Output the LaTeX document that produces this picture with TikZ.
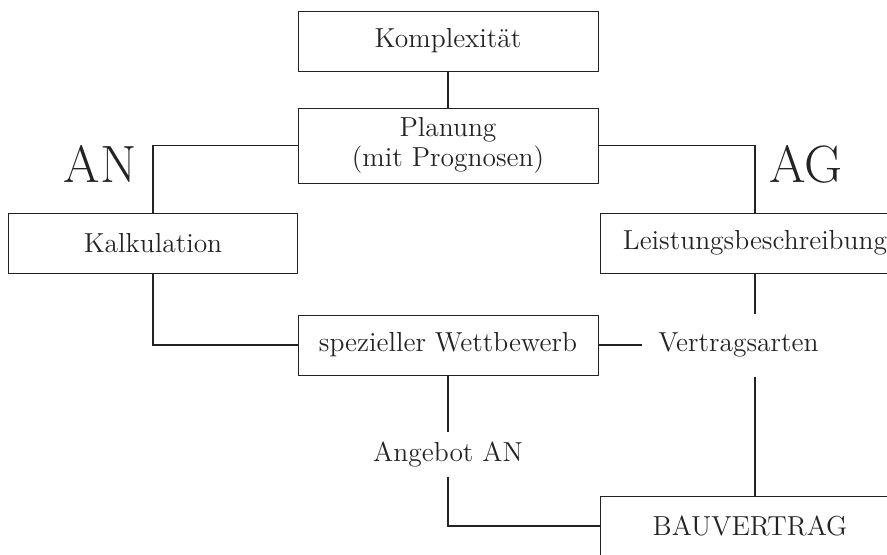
\documentclass[tikz,border=0pt]{standalone}
\usetikzlibrary{positioning}
\definecolor{ink}{RGB}{35,35,35}
\tikzset{
    box/.style={rectangle, draw=ink, text=ink, minimum width=120pt, minimum height=24pt, align=center, inner sep=2pt},
    word/.style={rectangle, text=ink, inner sep=0pt, align=center},
    party/.style={text=ink, font=\fontsize{21}{24}\selectfont, inner sep=0pt},
    link/.style={draw=ink, line width=0.45pt}
}

\begin{document}
\begin{tikzpicture}[x=0.4pt, y=-0.4pt, font=\fontsize{11}{12}\selectfont]
    \clip (0,0) rectangle (887,554);
    \node (komp) [box] at (448,41) {Komplexität};
    \node (plan) [box, minimum height=30pt, below=14.4pt of komp] {Planung\\(mit Prognosen)};
    \node (kalk) [box, minimum width=115.2pt] at (153,243) {Kalkulation};
    \node (leist) [box, minimum width=124pt] at (755,243) {Leistungsbeschreibung};
    \node (spez) [box, below=52.4pt of plan] {spezieller Wettbewerb};
    \node (vert) [word, minimum height=24.8pt, inner xsep=6.5pt, right=0pt of spez.east, xshift=17.2pt] {Vertragsarten};
    \node (ang) [word, minimum height=17.6pt, below=22.4pt of spez] {Angebot AN};
    \node (bau) [box] at (750,526) {BAUVERTRAG};

    \node (an) [party] at (100,164) {AN};
    \node (ag) [party] at (806,164) {AG};

    \draw [link] (komp) -- (plan);
    \draw [link] (plan.west) -| (kalk.north);
    \draw [link] (plan.east) -| (leist.north);
    \draw [link] (kalk.south) |- (spez.west);
    \draw [link] (spez.east) -- (vert.west);
    \draw [link] (leist.south) -- (leist.south |- vert.north);
    \draw [link] (leist.south |- vert.south) -- (leist.south |- bau.north);
    \draw [link] (spez.south) -- (ang.north);
    \draw [link] (ang.south) |- (bau.west);
\end{tikzpicture}
\end{document}
